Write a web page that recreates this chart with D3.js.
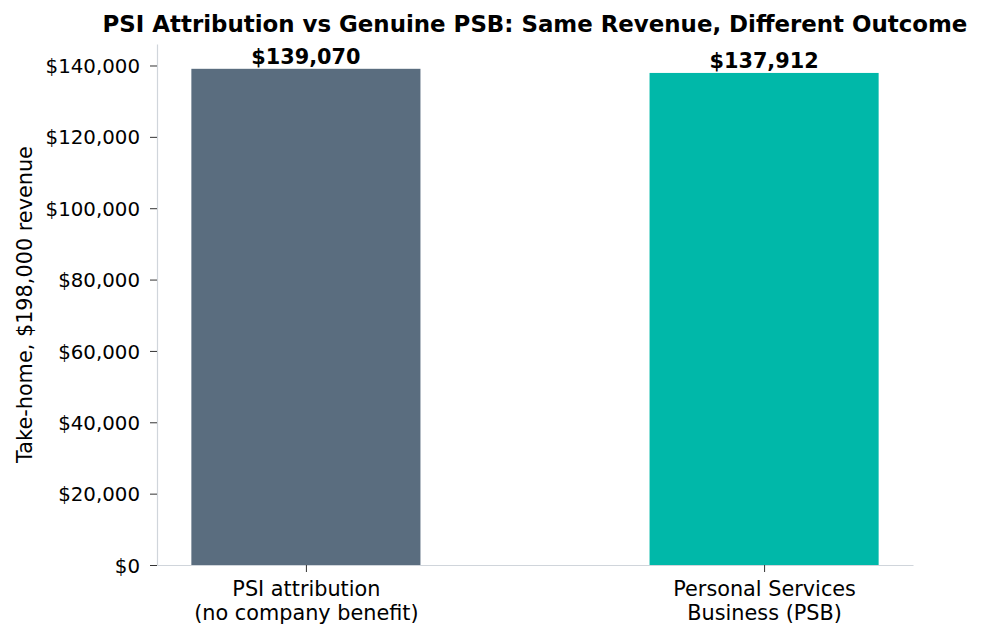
<!DOCTYPE html>
<html>
<head>
<meta charset="utf-8">
<script src="https://cdn.jsdelivr.net/npm/d3@7"></script>
<style>
  body { margin: 0; background: #fff; }
  text { font-family: "DejaVu Sans", sans-serif; fill: #000; }
</style>
</head>
<body>
<div id="chart"></div>
<script>
    // data
    var categories = ["PSI attribution\n(no company benefit)", "Personal Services\nBusiness (PSB)"];
    var takeHome = [139070, 137912];
    var barColors = ["#5a6d7f", "#00b8a9"];
    var yTicks = [0, 20000, 40000, 60000, 80000, 100000, 120000, 140000];

    var svgWidth = 982;
    var svgHeight = 638;
    var margin = { top: 44, right: 69, bottom: 73, left: 157 };
    var width = svgWidth - margin.left - margin.right;
    var height = svgHeight - margin.top - margin.bottom;

    var svg = d3.select("#chart")
        .append("svg")
        .attr("width", svgWidth)
        .attr("height", svgHeight);

    var chartGroup = svg.append("g")
        .attr("transform", `translate(${margin.left}, ${margin.top})`);

    // x: bar index, bars 0.5 wide with 5% padding like matplotlib
    var xScale = d3.scaleLinear()
        .domain([-0.325, 1.325])
        .range([0, width]);

    var yScale = d3.scaleLinear()
        .domain([0, d3.max(takeHome) * 1.05])
        .range([height, 0]);

    var fmt = d3.format("$,.0f");

    // bars
    chartGroup.selectAll("rect.bar")
        .data(takeHome)
        .enter()
        .append("rect")
        .attr("class", "bar")
        .attr("x", (d, i) => xScale(i - 0.25))
        .attr("width", (d, i) => xScale(i + 0.25) - xScale(i - 0.25))
        .attr("y", d => yScale(d))
        .attr("height", d => height - yScale(d))
        .attr("fill", (d, i) => barColors[i]);

    // value labels
    chartGroup.selectAll("text.val")
        .data(takeHome)
        .enter()
        .append("text")
        .attr("class", "val")
        .attr("x", (d, i) => xScale(i))
        .attr("y", d => yScale(d) - 5)
        .attr("text-anchor", "middle")
        .style("font-size", "20.8px")
        .style("font-weight", "bold")
        .text(d => fmt(d));

    // y axis
    var leftAxis = d3.axisLeft(yScale)
        .tickValues(yTicks)
        .tickFormat(fmt)
        .tickSizeInner(7)
        .tickSizeOuter(0)
        .tickPadding(10);

    var yAxis = chartGroup.append("g").call(leftAxis);
    yAxis.select(".domain").attr("stroke", "#d0d5db").attr("stroke-width", 1.2);
    yAxis.selectAll(".tick line").attr("stroke", "#333");
    yAxis.selectAll(".tick text").style("font-size", "19.8px").attr("dy", "0.36em");

    // x axis
    var bottomAxis = d3.axisBottom(xScale)
        .tickValues([0, 1])
        .tickFormat("")
        .tickSizeInner(7)
        .tickSizeOuter(0);

    var xAxis = chartGroup.append("g")
        .attr("transform", `translate(0, ${height})`)
        .call(bottomAxis);
    xAxis.select(".domain").attr("stroke", "#d0d5db").attr("stroke-width", 1.2);
    xAxis.selectAll(".tick line").attr("stroke", "#333");

    // two-line category labels
    xAxis.selectAll(".tick")
        .each(function(d) {
            var t = d3.select(this).append("text")
                .attr("y", 31)
                .attr("text-anchor", "middle")
                .style("font-size", "20.8px");
            categories[d].split("\n").forEach(function(line, k) {
                t.append("tspan")
                    .attr("x", 0)
                    .attr("dy", k === 0 ? 0 : 24)
                    .text(line);
            });
        });

    // y axis title
    chartGroup.append("text")
        .attr("transform", "rotate(-90)")
        .attr("x", -height / 2)
        .attr("y", 32 - margin.left)
        .attr("text-anchor", "middle")
        .style("font-size", "20.8px")
        .text("Take-home, $198,000 revenue");

    // title
    svg.append("text")
        .attr("x", margin.left + width / 2)
        .attr("y", 32)
        .attr("text-anchor", "middle")
        .style("font-size", "22.9px")
        .style("font-weight", "bold")
        .text("PSI Attribution vs Genuine PSB: Same Revenue, Different Outcome");
</script>
</body>
</html>
